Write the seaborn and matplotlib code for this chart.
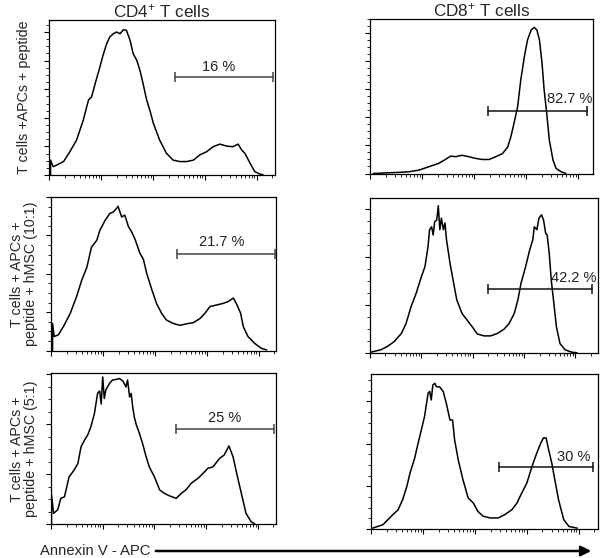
import numpy as np
import pandas as pd
import matplotlib
matplotlib.use("Agg")
import matplotlib.pyplot as plt
from matplotlib.ticker import MultipleLocator, FixedLocator, NullFormatter
import seaborn as sns

# x = log decades of Annexin V - APC, y = cell count (in axis tick units)
cd4_pep_x = [0.03, 0.03, 0.08, 0.15, 0.28, 0.40, 0.53, 0.66, 0.76, 0.82, 0.88, 0.98, 1.04, 1.11, 1.17, 1.24, 1.30,
             1.37, 1.43, 1.49, 1.56, 1.62, 1.69, 1.75, 1.81, 1.88, 1.94, 2.01, 2.13, 2.26, 2.39, 2.52, 2.65, 2.78,
             2.90, 3.03, 3.16, 3.29, 3.42, 3.54, 3.64, 3.71, 3.77, 3.87, 3.96, 4.06, 4.12]
cd4_pep_y = [0.00, 0.52, 0.29, 0.35, 0.47, 0.81, 1.22, 1.92, 2.62, 2.73, 3.14, 3.78, 4.19, 4.59, 4.83, 4.94, 5.00,
             4.94, 5.08, 5.06, 4.71, 4.24, 4.01, 3.66, 3.20, 2.62, 2.27, 1.80, 1.22, 0.76, 0.52, 0.47, 0.47, 0.52,
             0.70, 0.81, 0.99, 1.08, 1.01, 0.99, 1.08, 0.87, 0.76, 0.41, 0.12, 0.03, 0.01]

cd8_pep_x = [0.06, 0.29, 0.55, 0.74, 0.94, 1.13, 1.32, 1.45, 1.55, 1.65, 1.77, 1.90, 2.03, 2.16, 2.29, 2.42, 2.55,
             2.65, 2.71, 2.77, 2.84, 2.90, 2.97, 3.03, 3.10, 3.16, 3.21, 3.26, 3.31, 3.35, 3.40, 3.45, 3.52, 3.58,
             3.68, 3.77]
cd8_pep_y = [0.00, 0.02, 0.04, 0.06, 0.12, 0.24, 0.36, 0.50, 0.62, 0.60, 0.65, 0.60, 0.54, 0.50, 0.50, 0.60, 0.71,
             0.95, 1.31, 1.79, 2.38, 3.33, 4.17, 4.76, 5.12, 5.21, 5.12, 4.76, 3.93, 2.98, 2.14, 1.19, 0.48, 0.18,
             0.06, 0.00]

cd4_10_x = [0.03, 0.03, 0.06, 0.14, 0.24, 0.37, 0.49, 0.59, 0.69, 0.78, 0.88, 0.94, 1.04, 1.13, 1.20, 1.26, 1.29,
            1.36, 1.42, 1.49, 1.55, 1.62, 1.71, 1.78, 1.84, 1.94, 2.03, 2.13, 2.22, 2.35, 2.48, 2.61, 2.74, 2.87,
            2.96, 3.06, 3.19, 3.31, 3.41, 3.51, 3.58, 3.65, 3.70, 3.79, 3.92, 4.05, 4.15]
cd4_10_y = [0.00, 0.71, 0.37, 0.41, 0.63, 0.97, 1.40, 1.83, 2.17, 2.70, 2.87, 3.13, 3.39, 3.57, 3.61, 3.70, 3.76,
            3.48, 3.53, 3.23, 3.10, 2.89, 2.54, 2.37, 2.02, 1.59, 1.23, 0.97, 0.80, 0.71, 0.66, 0.70, 0.73, 0.84,
            0.97, 1.15, 1.19, 1.23, 1.28, 1.37, 1.19, 0.97, 0.63, 0.37, 0.19, 0.06, 0.02]

cd8_10_x = [0.01, 0.21, 0.34, 0.47, 0.61, 0.70, 0.80, 0.90, 1.00, 1.07, 1.13, 1.16, 1.20, 1.23, 1.26, 1.30, 1.33,
            1.36, 1.39, 1.43, 1.46, 1.49, 1.56, 1.63, 1.69, 1.79, 1.89, 1.99, 2.09, 2.22, 2.35, 2.48, 2.61, 2.71,
            2.81, 2.88, 2.94, 3.03, 3.11, 3.17, 3.20, 3.25, 3.29, 3.34, 3.38, 3.42, 3.45, 3.49, 3.53, 3.58, 3.63,
            3.70, 3.80, 3.93, 4.03]
cd8_10_y = [0.01, 0.06, 0.13, 0.23, 0.40, 0.60, 0.96, 1.24, 1.58, 1.79, 2.21, 2.56, 2.62, 2.45, 2.73, 2.76, 3.06,
            2.56, 2.80, 2.56, 2.70, 2.35, 1.85, 1.44, 1.10, 0.82, 0.68, 0.54, 0.39, 0.35, 0.35, 0.40, 0.49, 0.61,
            0.82, 1.10, 1.44, 1.79, 2.14, 2.35, 2.62, 2.56, 2.80, 2.87, 2.76, 2.49, 2.45, 2.07, 1.51, 1.03, 0.54,
            0.19, 0.06, 0.01, 0.00]

cd4_5_x = [0.01, 0.01, 0.05, 0.13, 0.19, 0.26, 0.35, 0.45, 0.52, 0.58, 0.65, 0.71, 0.77, 0.84, 0.90, 0.94, 0.97,
           1.00, 1.03, 1.06, 1.13, 1.19, 1.26, 1.32, 1.39, 1.45, 1.48, 1.52, 1.55, 1.58, 1.61, 1.65, 1.71, 1.77,
           1.84, 1.90, 2.00, 2.10, 2.19, 2.29, 2.42, 2.52, 2.61, 2.71, 2.84, 2.94, 3.03, 3.13, 3.26, 3.35, 3.44,
           3.52, 3.59, 3.68, 3.77, 3.87, 3.94]
cd4_5_y = [0.00, 0.59, 0.22, 0.29, 0.52, 0.55, 0.95, 1.09, 1.22, 1.55, 1.69, 1.79, 1.95, 2.22, 2.62, 2.67, 2.41,
           2.95, 2.52, 2.69, 2.82, 2.89, 2.90, 2.92, 2.87, 2.75, 2.89, 2.55, 2.62, 2.35, 2.15, 1.99, 1.82, 1.62,
           1.35, 1.15, 0.95, 0.69, 0.62, 0.57, 0.52, 0.62, 0.69, 0.82, 0.92, 1.02, 1.12, 1.15, 1.32, 1.39, 1.57,
           1.35, 1.02, 0.62, 0.22, 0.05, 0.01]

cd8_5_x = [0.03, 0.23, 0.39, 0.52, 0.61, 0.69, 0.75, 0.84, 0.90, 0.97, 1.03, 1.10, 1.13, 1.16, 1.19, 1.23, 1.26,
           1.32, 1.39, 1.45, 1.52, 1.57, 1.61, 1.68, 1.77, 1.87, 1.97, 2.06, 2.16, 2.29, 2.45, 2.58, 2.71, 2.81,
           2.90, 3.00, 3.10, 3.19, 3.27, 3.32, 3.37, 3.42, 3.48, 3.55, 3.61, 3.71, 3.81, 3.97]
cd8_5_y = [0.02, 0.10, 0.30, 0.45, 0.69, 1.00, 1.31, 1.66, 1.98, 2.33, 2.64, 3.19, 3.23, 3.03, 3.38, 3.42, 3.34,
           3.34, 3.23, 2.95, 2.56, 2.56, 2.09, 1.62, 1.16, 0.73, 0.61, 0.41, 0.30, 0.26, 0.26, 0.34, 0.45, 0.61,
           0.84, 1.08, 1.47, 1.78, 2.02, 2.14, 2.14, 1.86, 1.55, 1.08, 0.69, 0.22, 0.06, 0.02]

# gates: start, end, height, label, label x, label y
gate_start = [2.42, 2.27, 2.42, 2.30, 2.42, 2.46]
gate_end = [4.31, 4.17, 4.31, 4.32, 4.32, 4.27]
gate_y = [3.41, 2.23, 2.52, 1.33, 1.91, 1.45]
gate_labels = ["16 %", "82.7 %", "21.7 %", "42.2 %", "25 %", "30 %"]
label_x = [3.26, 3.84, 3.28, 3.96, 3.35, 3.90]
label_y = [3.78, 2.64, 2.83, 1.55, 2.13, 1.70]

ymax = [5.42, 5.51, 4.0, 3.22, 3.03, 3.64]
xmax = [4.35, 4.29, 4.33, 4.44, 4.35, 4.37]

col_titles = ["CD4$^{+}$ T cells", "CD8$^{+}$ T cells"]
row_labels = ["T cells +APCs + peptide",
              "T cells + APCs +\npeptide + hMSC (10:1)",
              "T cells + APCs +\npeptide + hMSC (5:1)"]
xlabel = "Annexin V - APC"

curves = [(cd4_pep_x, cd4_pep_y), (cd8_pep_x, cd8_pep_y), (cd4_10_x, cd4_10_y),
          (cd8_10_x, cd8_10_y), (cd4_5_x, cd4_5_y), (cd8_5_x, cd8_5_y)]

sns.set_style("ticks")
plt.rcParams["font.family"] = ["Liberation Sans", "DejaVu Sans"]
plt.rcParams["mathtext.fontset"] = "custom"
plt.rcParams["mathtext.rm"] = "Liberation Sans"
plt.rcParams["mathtext.it"] = "Liberation Sans"

fig = plt.figure(figsize=(6, 5.58), dpi=100)

# axes boxes in pixels: left, top, right, bottom
boxes = [(49, 20, 275, 175), (370, 19, 593, 173.5),
         (51, 197, 276, 350.7), (370, 198, 598, 352.7),
         (51, 373, 276, 524.3), (371, 374, 598, 529)]

for i, (bx, (cx, cy)) in enumerate(zip(boxes, curves)):
    l, t, r, b = bx
    ax = fig.add_axes([l / 600, 1 - b / 558, (r - l) / 600, (b - t) / 558])
    df = pd.DataFrame({"x": cx, "y": cy})
    sns.lineplot(data=df, x="x", y="y", ax=ax, color="black", linewidth=1.1,
                 estimator=None, sort=False)
    ax.set_xlim(0, xmax[i])
    ax.set_ylim(0, ymax[i])
    ax.xaxis.set_major_locator(FixedLocator([0, 1, 2, 3, 4]))
    minors = [d + np.log10(k) for d in range(5) for k in range(2, 10)]
    ax.xaxis.set_minor_locator(FixedLocator([m for m in minors if m < xmax[i]]))
    ax.yaxis.set_major_locator(MultipleLocator(1))
    ax.yaxis.set_minor_locator(MultipleLocator(0.25))
    ax.xaxis.set_major_formatter(NullFormatter())
    ax.yaxis.set_major_formatter(NullFormatter())
    ax.tick_params(which="major", direction="out", length=3.5, width=0.8, color="black")
    ax.tick_params(which="minor", direction="out", length=2, width=0.6, color="black")
    ax.set_xlabel("")
    ax.set_ylabel("")
    for s in ax.spines.values():
        s.set_visible(True)
        s.set_linewidth(0.9)
        s.set_color("black")
    gcol = "#444444" if i % 2 == 0 else "#111111"
    ax.plot([gate_start[i], gate_end[i]], [gate_y[i], gate_y[i]], color=gcol,
            linewidth=1.1, marker="|", markersize=7, markeredgewidth=1.1)
    ax.text(label_x[i], label_y[i], gate_labels[i], ha="center", va="center",
            fontsize=10.5, color="#222222")
    if i < 2:
        ax.set_title(col_titles[i], fontsize=12.3, pad=1.5)

# row labels
row_centers = [97.5, 274, 449]
for lab, yc in zip(row_labels, row_centers):
    fig.text(24 / 600, 1 - yc / 558, lab, rotation=90, ha="center", va="center",
             fontsize=10.3, linespacing=1.05)

# bottom axis label with arrow
fig.text(150 / 600, 1 - 551 / 558, xlabel, ha="right", va="center", fontsize=10.7)
fig.add_artist(matplotlib.patches.FancyArrowPatch(
    (153 / 600, 1 - 551 / 558), (594 / 600, 1 - 551 / 558),
    transform=fig.transFigure, arrowstyle="-|>,head_length=6,head_width=3",
    mutation_scale=1, linewidth=1.8, color="black"))

fig.savefig("out.png", dpi=100)
